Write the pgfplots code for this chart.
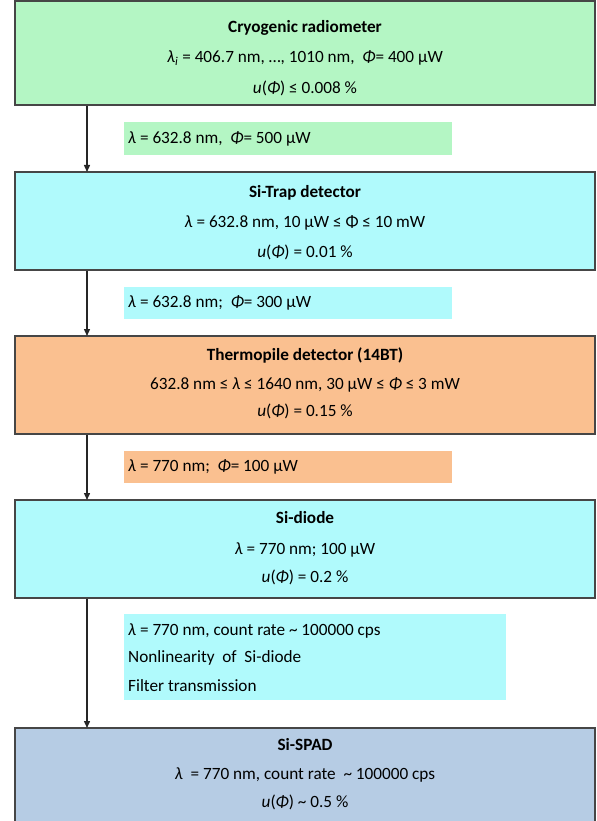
\documentclass[border=0pt]{standalone}
\usepackage{pgfplots}
\pgfplotsset{compat=1.18}
\usepackage{fontspec}
\setmainfont{Carlito}
\usetikzlibrary{arrows.meta}
\definecolor{gfill}{RGB}{180,246,196}
\definecolor{cfill}{RGB}{176,250,252}
\definecolor{ofill}{RGB}{250,192,144}
\definecolor{bfill}{RGB}{182,204,228}
\definecolor{bord}{RGB}{70,70,70}
\newcommand{\lam}{\textit{λ}}
\newcommand{\Ph}{\textit{Φ}}
\tikzset{txt/.style={font=\fontsize{17.2bp}{20bp}\selectfont, inner sep=0pt, text height=11bp, text depth=0bp}}
\begin{document}
\begin{tikzpicture}
\begin{axis}[scale only axis, width=597bp, height=821bp,
  xmin=0, xmax=597, ymin=0, ymax=821, y dir=reverse, hide axis, clip=true]
% frame for bounding box (invisible)
\addplot[draw=none, mark=none] coordinates {(0,0) (597,0) (597,821) (0,821)};
% main boxes
\addplot[draw=bord, line width=1.5bp, fill=gfill, mark=none] coordinates {(15,1) (595,1) (595,105) (15,105)} -- cycle;
\addplot[draw=bord, line width=1.5bp, fill=cfill, mark=none] coordinates {(15,172) (595,172) (595,270) (15,270)} -- cycle;
\addplot[draw=bord, line width=1.5bp, fill=ofill, mark=none] coordinates {(15,336) (595,336) (595,434) (15,434)} -- cycle;
\addplot[draw=bord, line width=1.5bp, fill=cfill, mark=none] coordinates {(15,500) (595,500) (595,598) (15,598)} -- cycle;
\addplot[draw=none, fill=bfill, mark=none] coordinates {(15,728) (595,728) (595,821) (15,821)} -- cycle;
\addplot[draw=bord, line width=1.5bp, mark=none] coordinates {(15,821) (15,728) (595,728) (595,821)};
% label boxes
\addplot[draw=none, fill=gfill, mark=none] coordinates {(124,122) (452,122) (452,155) (124,155)} -- cycle;
\addplot[draw=none, fill=cfill, mark=none] coordinates {(124,287) (452,287) (452,319) (124,319)} -- cycle;
\addplot[draw=none, fill=ofill, mark=none] coordinates {(124,451) (452,451) (452,483) (124,483)} -- cycle;
\addplot[draw=none, fill=cfill, mark=none] coordinates {(124,614) (506,614) (506,700) (124,700)} -- cycle;
% arrows
\addplot[black!85, line width=1.4bp, mark=none, -{Triangle[length=7bp,width=6bp]}] coordinates {(87,106) (87,172)};
\addplot[black!85, line width=1.4bp, mark=none, -{Triangle[length=7bp,width=6bp]}] coordinates {(87,271) (87,336)};
\addplot[black!85, line width=1.4bp, mark=none, -{Triangle[length=7bp,width=6bp]}] coordinates {(87,435) (87,500)};
\addplot[black!85, line width=1.4bp, mark=none, -{Triangle[length=7bp,width=6bp]}] coordinates {(87,599) (87,728)};
% box texts
\node[txt] at (axis cs:305,27) {\textbf{Cryogenic radiometer}};
\node[txt] at (axis cs:305,57) {\lam\textsubscript{\textit{i}} = 406.7 nm, …, 1010 nm, \ \Ph = 400 µW};
\node[txt] at (axis cs:305,88) {\textit{u}(\Ph) ≤ 0.008 \%};
\node[txt, anchor=west] at (axis cs:128,138) {\lam\ = 632.8 nm, \ \Ph= 500 µW};

\node[txt] at (axis cs:305,192) {\textbf{Si-Trap detector}};
\node[txt] at (axis cs:305,222) {\lam\ = 632.8 nm, 10 µW ≤ Φ ≤ 10 mW};
\node[txt] at (axis cs:305,252) {\textit{u}(\Ph) = 0.01 \%};
\node[txt, anchor=west] at (axis cs:128,302) {\lam\ = 632.8 nm; \ \Ph= 300 µW};

\node[txt] at (axis cs:305,355) {\textbf{Thermopile detector (14BT)}};
\node[txt] at (axis cs:305,384) {632.8 nm ≤ \lam\ ≤ 1640 nm, 30 µW ≤ \Ph\ ≤ 3 mW};
\node[txt] at (axis cs:305,411) {\textit{u}(\Ph) = 0.15 \%};
\node[txt, anchor=west] at (axis cs:128,466) {\lam\ = 770 nm; \ \Ph= 100 µW};

\node[txt] at (axis cs:305,518) {\textbf{Si-diode}};
\node[txt] at (axis cs:305,549) {\lam\ = 770 nm; 100 µW};
\node[txt] at (axis cs:305,577) {\textit{u}(\Ph) = 0.2 \%};
\node[txt, anchor=west] at (axis cs:128,630) {\lam\ = 770 nm, count rate \textasciitilde\ 100000 cps};
\node[txt, anchor=west] at (axis cs:128,657) {Nonlinearity \ of \ Si-diode};
\node[txt, anchor=west] at (axis cs:128,686) {Filter transmission};

\node[txt] at (axis cs:305,745) {\textbf{Si-SPAD}};
\node[txt] at (axis cs:305,774) {\lam\ \ = 770 nm, count rate \ \textasciitilde\ 100000 cps};
\node[txt] at (axis cs:305,802) {\textit{u}(\Ph) \textasciitilde\ 0.5 \%};
\end{axis}
\end{tikzpicture}
\end{document}
